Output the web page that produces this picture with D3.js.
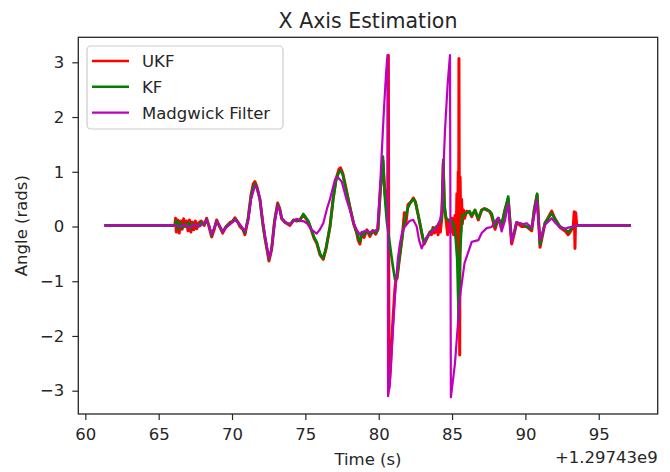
<!DOCTYPE html>
<html>
<head>
<meta charset="utf-8">
<script src="https://cdn.jsdelivr.net/npm/d3@7"></script>
<style>
  body { margin: 0; background: #fff; }
  text { font-family: "DejaVu Sans", sans-serif; fill: #262626; }
</style>
</head>
<body>
<div id="chart"></div>
<script>
// time is seconds minus 1.29743e9 (offset shown at bottom right)
let xTicks = [60, 65, 70, 75, 80, 85, 90, 95]
let yTicks = [-3, -2, -1, 0, 1, 2, 3]
let offsetLabel = "+1.29743e9"
let seriesNames = ["UKF", "KF", "Madgwick Filter"]
let seriesColors = ["#ff0000", "#008000", "#bf00bf"]

let ukf = [[61.3,0.02],[66.1,0.02],[66.15,0.15],[66.2,-0.1],[66.3,0.12],[66.4,-0.12],[66.5,0.1],[66.6,-0.05],[66.7,0.14],[66.8,0.0],[66.9,0.1],[67.0,-0.08],[67.1,0.12],[67.2,-0.1],[67.3,0.08],[67.4,-0.06],[67.5,0.1],[67.6,-0.04],[67.7,0.06],[67.9,0.1],[68.1,0.02],[68.27,0.15],[68.45,-0.02],[68.61,-0.19],[68.8,-0.04],[68.95,0.12],[69.15,0.0],[69.36,-0.12],[69.6,0.0],[69.86,0.07],[70.05,0.1],[70.2,0.16],[70.4,0.08],[70.54,0.0],[70.75,-0.06],[70.88,-0.15],[71.1,0.15],[71.3,0.58],[71.45,0.78],[71.56,0.82],[71.7,0.72],[71.9,0.5],[72.1,0.05],[72.24,-0.2],[72.52,-0.63],[72.7,-0.42],[72.9,0.1],[73.11,0.43],[73.25,0.33],[73.39,0.14],[73.6,0.08],[73.95,0.02],[74.2,0.12],[74.41,0.1],[74.6,0.12],[74.86,0.2],[75.0,0.16],[75.2,0.08],[75.4,-0.06],[75.6,-0.22],[75.77,-0.3],[76.0,-0.52],[76.22,-0.6],[76.4,-0.42],[76.68,0.0],[76.9,0.52],[77.1,0.88],[77.3,1.05],[77.4,1.07],[77.55,0.97],[77.8,0.66],[78.04,0.35],[78.3,0.04],[78.5,-0.12],[78.6,-0.25],[78.72,-0.32],[78.85,-0.12],[79.0,-0.2],[79.2,-0.06],[79.4,-0.18],[79.6,-0.08],[79.8,-0.14],[79.95,-0.05],[80.1,0.62],[80.29,1.2],[80.4,0.7],[80.55,0.3],[80.62,0.4],[80.66,3.13],[80.7,-2.95],[80.8,-2.6],[80.95,-1.8],[81.1,-1.15],[81.2,-0.9],[81.25,-0.95],[81.4,-0.62],[81.6,-0.2],[81.75,0.25],[81.85,0.05],[82.0,0.4],[82.2,0.45],[82.36,0.52],[82.5,0.45],[82.7,0.2],[82.93,-0.12],[83.1,-0.32],[83.27,-0.22],[83.5,-0.1],[83.6,-0.15],[83.7,-0.02],[83.8,-0.12],[83.95,0.0],[84.05,-0.15],[84.1,0.05],[84.2,-0.1],[84.3,0.15],[84.4,1.15],[84.48,0.35],[84.6,0.1],[84.7,-0.15],[84.8,0.12],[84.9,-0.1],[85.0,0.15],[85.1,-0.15],[85.2,0.2],[85.28,-0.2],[85.33,0.6],[85.38,-0.1],[85.42,1.0],[85.45,-1.71],[85.47,3.07],[85.52,-2.35],[85.55,0.9],[85.6,-0.1],[85.65,0.5],[85.7,0.05],[85.78,0.3],[85.85,0.15],[86.0,0.28],[86.2,0.25],[86.34,0.18],[86.56,0.3],[86.79,0.12],[87.02,0.3],[87.2,0.33],[87.36,0.3],[87.55,0.28],[87.7,0.2],[87.93,-0.05],[88.15,0.15],[88.38,0.0],[88.6,0.3],[88.83,0.5],[89.06,-0.32],[89.25,-0.12],[89.4,0.07],[89.75,0.0],[90.09,0.0],[90.43,-0.08],[90.6,0.3],[90.8,0.58],[91.0,-0.38],[91.33,0.05],[91.79,0.28],[92.0,0.15],[92.36,-0.02],[92.7,-0.08],[92.92,-0.15],[93.1,-0.08],[93.26,0.0],[93.33,0.27],[93.38,-0.4],[93.43,0.25],[93.5,0.02],[97.2,0.02]]

let kf = [[61.3,0.02],[66.1,0.02],[66.2,0.1],[66.3,-0.05],[66.45,0.08],[66.6,-0.03],[66.75,0.06],[66.9,0.0],[67.05,0.07],[67.2,-0.04],[67.35,0.05],[67.5,0.02],[67.7,0.0],[67.9,0.08],[68.1,0.04],[68.27,0.13],[68.45,0.0],[68.61,-0.17],[68.8,-0.02],[68.95,0.1],[69.15,0.0],[69.36,-0.1],[69.6,0.0],[69.86,0.06],[70.05,0.09],[70.2,0.14],[70.4,0.08],[70.54,0.02],[70.75,-0.05],[70.88,-0.12],[71.1,0.15],[71.3,0.55],[71.45,0.72],[71.56,0.78],[71.7,0.7],[71.9,0.5],[72.1,0.05],[72.24,-0.2],[72.52,-0.6],[72.7,-0.4],[72.9,0.1],[73.11,0.4],[73.25,0.32],[73.39,0.15],[73.6,0.08],[73.95,0.04],[74.2,0.12],[74.41,0.12],[74.6,0.1],[74.86,0.23],[75.0,0.18],[75.2,0.1],[75.4,-0.05],[75.6,-0.2],[75.77,-0.28],[76.0,-0.5],[76.22,-0.58],[76.4,-0.4],[76.68,0.0],[76.9,0.5],[77.1,0.85],[77.3,1.0],[77.4,1.02],[77.55,0.95],[77.8,0.65],[78.04,0.35],[78.3,0.05],[78.5,-0.1],[78.6,-0.2],[78.72,-0.28],[78.85,-0.1],[79.0,-0.15],[79.2,-0.08],[79.4,-0.14],[79.6,-0.07],[79.8,-0.12],[79.95,-0.05],[80.1,0.6],[80.29,1.28],[80.4,0.6],[80.55,0.1],[80.75,-0.3],[80.95,-0.7],[81.11,-0.97],[81.25,-0.92],[81.4,-0.6],[81.6,-0.2],[81.8,0.15],[82.0,0.35],[82.2,0.45],[82.36,0.5],[82.5,0.45],[82.7,0.2],[82.93,-0.1],[83.1,-0.3],[83.27,-0.22],[83.5,-0.1],[83.7,-0.05],[83.95,0.0],[84.1,0.05],[84.3,0.15],[84.4,1.22],[84.48,0.4],[84.6,0.15],[84.8,0.1],[85.0,0.1],[85.2,-0.05],[85.35,-0.6],[85.45,-1.71],[85.55,-0.5],[85.68,0.2],[85.85,0.22],[86.0,0.25],[86.2,0.28],[86.34,0.2],[86.56,0.3],[86.79,0.15],[87.02,0.3],[87.2,0.32],[87.36,0.32],[87.55,0.28],[87.7,0.24],[87.93,0.0],[88.15,0.15],[88.38,0.05],[88.6,0.3],[88.83,0.55],[89.06,-0.25],[89.25,-0.1],[89.4,0.07],[89.75,0.05],[90.09,0.0],[90.43,-0.05],[90.6,0.3],[90.8,0.6],[91.0,-0.33],[91.33,0.07],[91.79,0.24],[92.0,0.15],[92.36,0.0],[92.7,-0.05],[92.92,-0.1],[93.1,-0.05],[93.26,0.0],[93.5,0.02],[97.2,0.02]]

let madgwick = [[61.3,0.02],[66.1,0.02],[66.5,0.0],[66.8,0.04],[67.1,-0.02],[67.4,0.03],[67.8,0.0],[68.0,0.05],[68.27,0.12],[68.45,0.0],[68.61,-0.15],[68.8,-0.02],[68.95,0.09],[69.15,0.02],[69.36,-0.09],[69.6,-0.02],[69.86,0.04],[70.2,0.12],[70.54,0.04],[70.88,-0.09],[71.1,0.1],[71.3,0.5],[71.56,0.74],[71.75,0.68],[71.9,0.5],[72.1,0.1],[72.24,-0.15],[72.52,-0.58],[72.7,-0.4],[72.9,0.05],[73.11,0.38],[73.25,0.3],[73.39,0.14],[73.7,0.06],[73.95,0.04],[74.2,0.1],[74.41,0.14],[74.7,0.1],[74.86,0.1],[75.1,0.06],[75.4,-0.05],[75.77,-0.13],[76.0,-0.05],[76.22,0.06],[76.5,0.35],[76.68,0.5],[77.02,0.86],[77.2,0.9],[77.48,0.82],[77.8,0.5],[78.04,0.3],[78.3,0.05],[78.5,-0.06],[78.72,-0.15],[78.9,-0.1],[79.1,-0.08],[79.4,-0.1],[79.7,-0.08],[79.9,-0.06],[80.05,0.5],[80.2,1.3],[80.35,2.1],[80.5,2.8],[80.6,3.13],[80.64,-3.1],[80.75,-2.9],[80.9,-2.2],[81.1,-1.3],[81.3,-0.6],[81.45,-0.31],[81.6,-0.1],[81.79,0.0],[82.1,0.1],[82.36,0.12],[82.59,0.0],[82.75,-0.25],[82.93,-0.4],[83.27,-0.19],[83.6,-0.1],[83.95,-0.03],[84.18,0.12],[84.3,0.3],[84.52,1.76],[84.7,2.6],[84.86,3.13],[84.92,-3.12],[85.2,-2.5],[85.54,-1.28],[85.85,-0.67],[86.34,-0.28],[86.79,-0.25],[87.02,-0.12],[87.36,-0.03],[87.7,-0.01],[87.93,0.09],[88.15,0.16],[88.38,-0.09],[88.6,0.1],[88.83,0.42],[89.06,-0.28],[89.4,0.08],[89.75,0.04],[90.09,0.06],[90.43,-0.02],[90.6,0.2],[90.77,0.48],[91.0,-0.25],[91.33,0.03],[91.79,0.15],[92.0,0.08],[92.36,-0.02],[92.7,-0.04],[92.92,-0.02],[93.26,0.0],[93.5,0.02],[97.2,0.02]]

let allSeries = [ukf, kf, madgwick]

var width = 670, height = 472
var plotL = 78.3, plotR = 657.7, plotT = 37.3, plotB = 414

let svg = d3.select("#chart").append("svg")
    .attr("width", width)
    .attr("height", height)

let x = d3.scaleLinear().domain([59.52, 99.02]).range([plotL, plotR])
let y = d3.scaleLinear().domain([-3.426, 3.457]).range([plotB, plotT])

let line = d3.line()
    .x(d => x(d[0]))
    .y(d => y(d[1]))

// the filters are noisy, so ukf/kf look a bit fatter than madgwick
let widths = [3.0, 2.6, 2.2]
for (let i = 0; i < allSeries.length; i++) {
    svg.append("path")
        .datum(allSeries[i])
        .attr("fill", "none")
        .attr("stroke", seriesColors[i])
        .attr("stroke-width", widths[i])
        .attr("stroke-linejoin", "round")
        .attr("d", line)
}

// axes
svg.append("g")
    .attr("transform", "translate(0," + plotB + ")")
    .call(d3.axisBottom(x).tickValues(xTicks).tickSize(6).tickPadding(8).tickFormat(d3.format("d")))
svg.append("g")
    .attr("transform", "translate(" + plotL + ",0)")
    .call(d3.axisLeft(y).tickValues(yTicks).tickSize(6).tickPadding(8).tickFormat(d => d < 0 ? "\u2212" + Math.abs(d) : d))

svg.selectAll(".tick line").attr("stroke", "#262626").attr("stroke-width", 1.2)
svg.selectAll(".tick text").style("font-size", "16.5px").attr("fill", "#262626")
svg.selectAll(".domain").remove()

svg.append("rect")
    .attr("x", plotL)
    .attr("y", plotT)
    .attr("width", plotR - plotL)
    .attr("height", plotB - plotT)
    .attr("fill", "none")
    .attr("stroke", "#262626")
    .attr("stroke-width", 1.3)

// labels
svg.append("text")
    .attr("x", (plotL + plotR) / 2)
    .attr("y", 28)
    .attr("text-anchor", "middle")
    .style("font-size", "20.5px")
    .text("X Axis Estimation")

svg.append("text")
    .attr("x", (plotL + plotR) / 2)
    .attr("y", 465)
    .attr("text-anchor", "middle")
    .style("font-size", "16.5px")
    .text("Time (s)")

svg.append("text")
    .attr("x", plotR)
    .attr("y", 463)
    .attr("text-anchor", "end")
    .style("font-size", "16.5px")
    .text(offsetLabel)

svg.append("text")
    .attr("transform", "translate(27," + ((plotT + plotB) / 2) + ") rotate(-90)")
    .attr("text-anchor", "middle")
    .style("font-size", "16.5px")
    .text("Angle (rads)")

// legend
let legend = svg.append("g")
legend.append("rect")
    .attr("x", 87)
    .attr("y", 46)
    .attr("width", 196)
    .attr("height", 83)
    .attr("rx", 4)
    .attr("fill", "white")
    .attr("fill-opacity", 0.8)
    .attr("stroke", "#cccccc")
    .attr("stroke-width", 1.2)

for (let i = 0; i < seriesNames.length; i++) {
    let ly = 61 + i * 25.8
    legend.append("line")
        .attr("x1", 92)
        .attr("x2", 129)
        .attr("y1", ly)
        .attr("y2", ly)
        .attr("stroke", seriesColors[i])
        .attr("stroke-width", 2.4)
    legend.append("text")
        .attr("x", 142)
        .attr("y", ly + 6)
        .style("font-size", "16.5px")
        .text(seriesNames[i])
}
</script>
</body>
</html>
